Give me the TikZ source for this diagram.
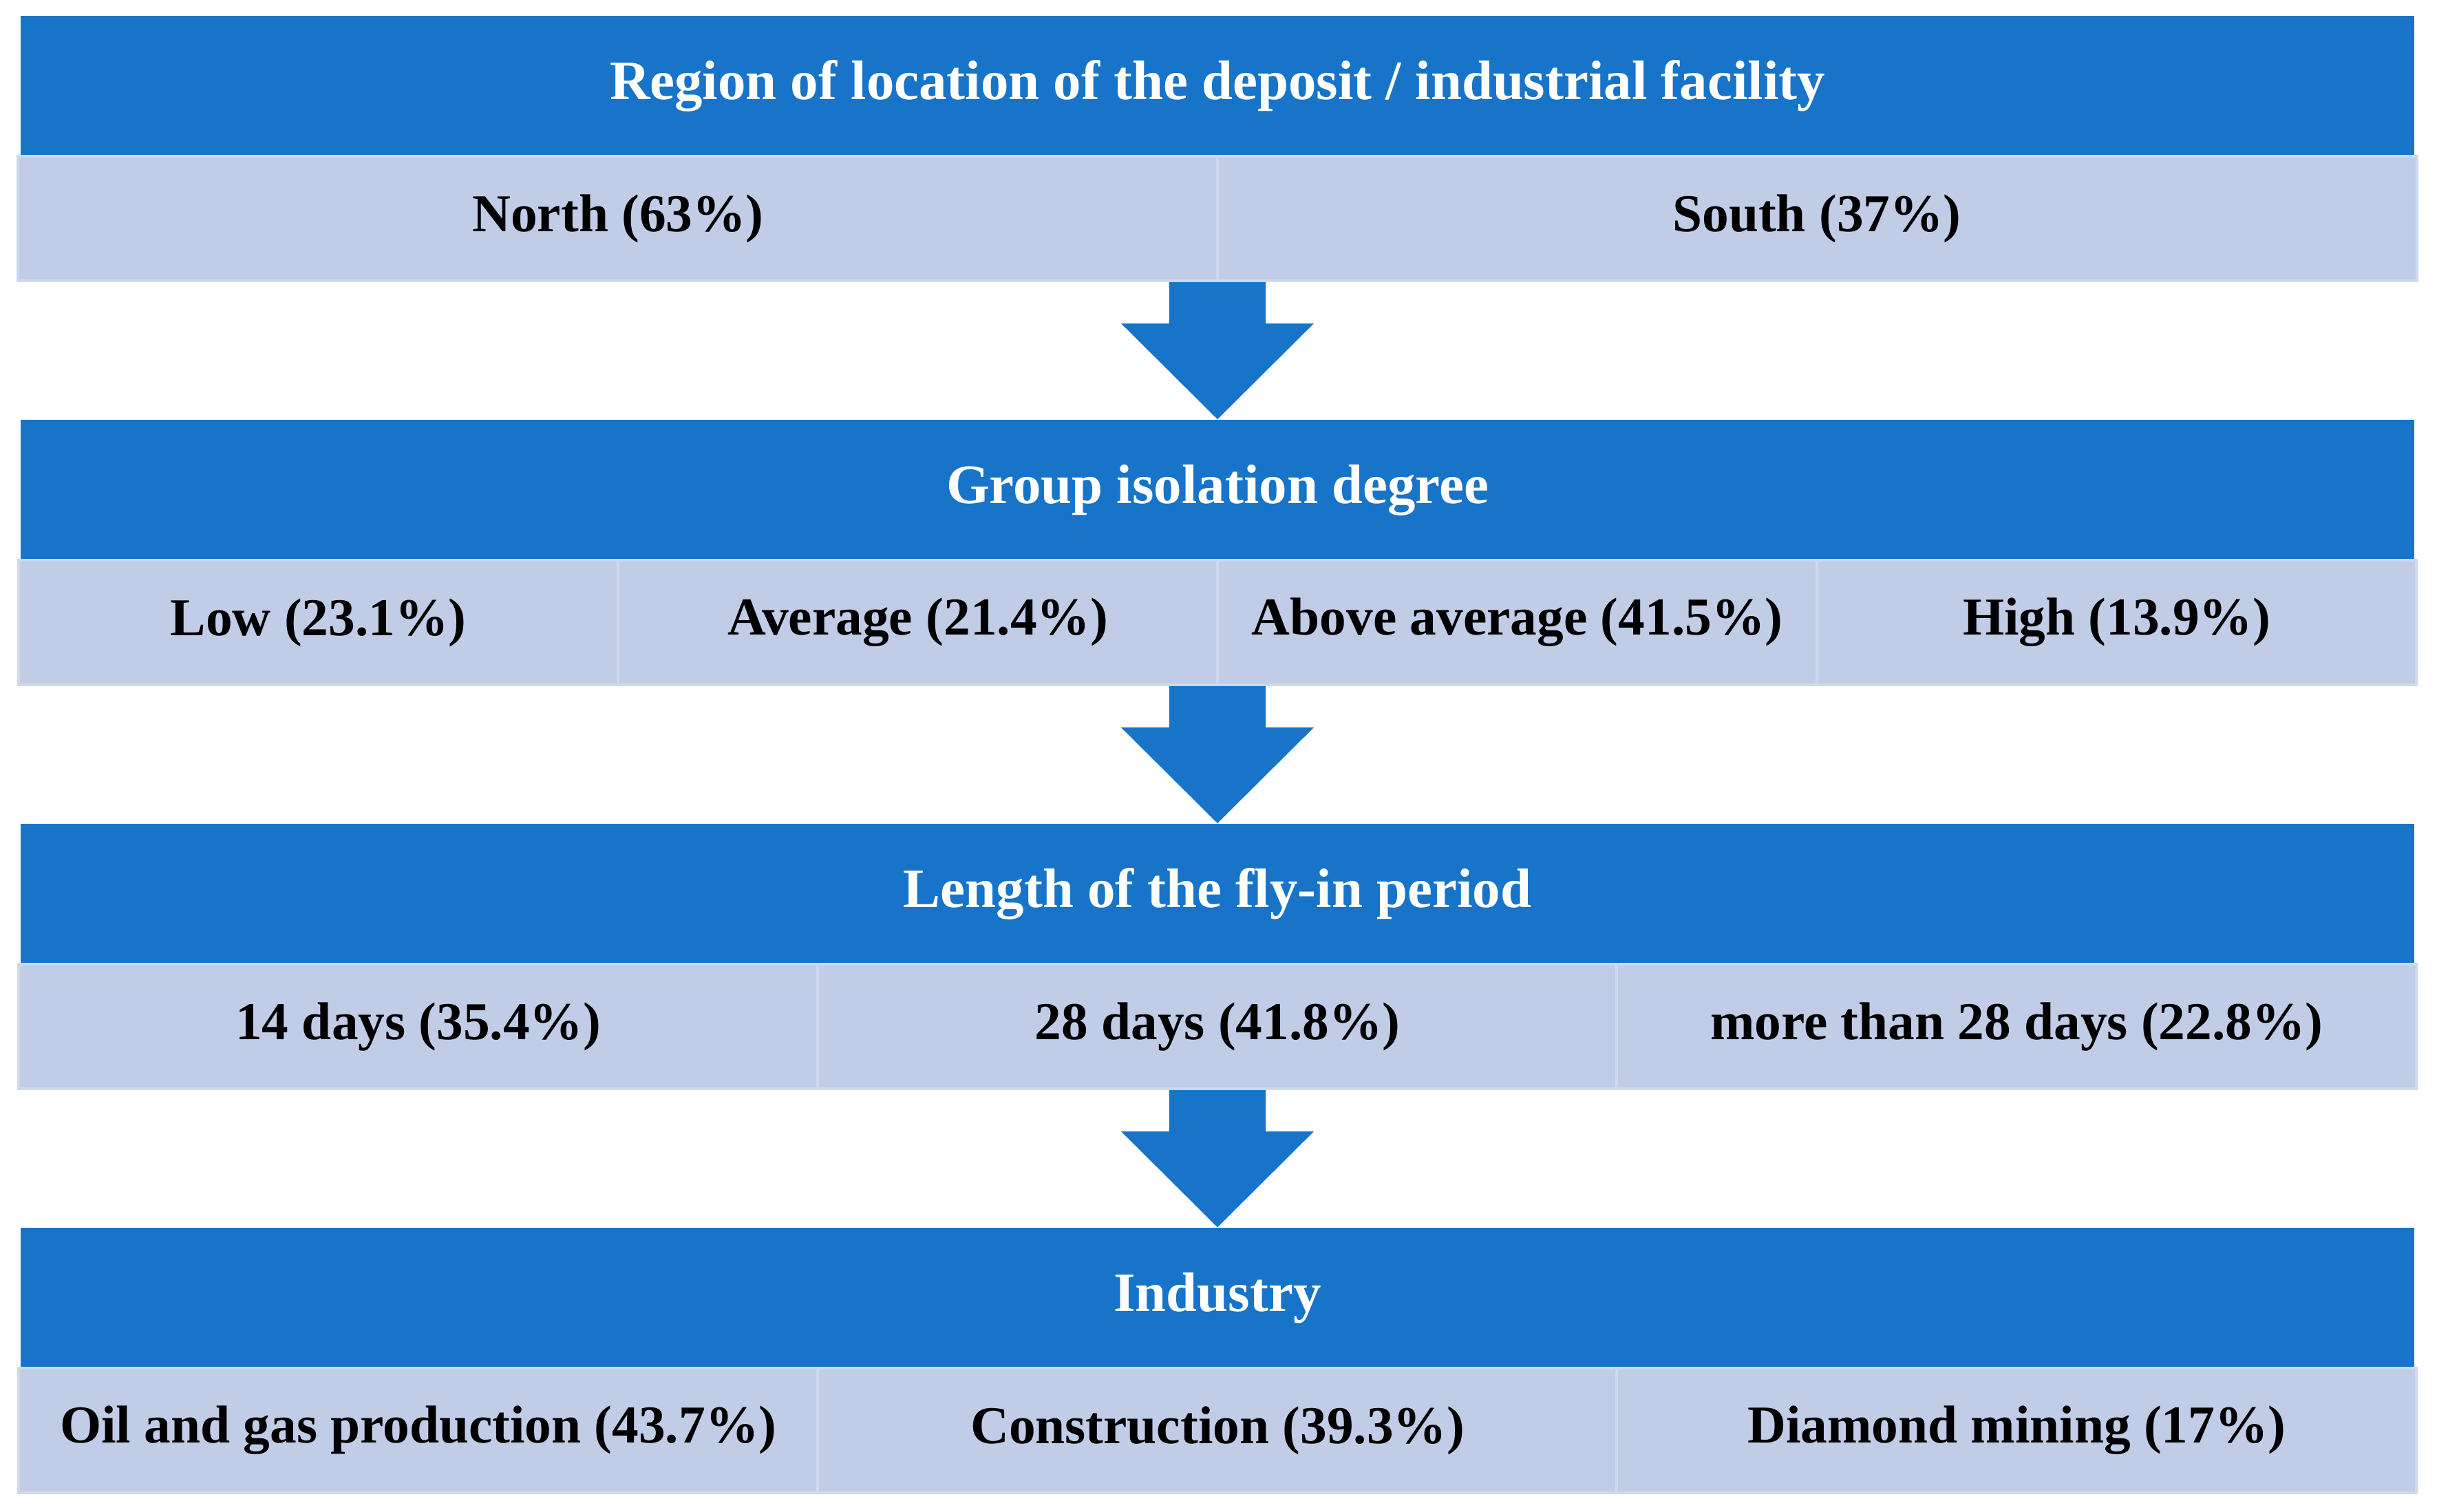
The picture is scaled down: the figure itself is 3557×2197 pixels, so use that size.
\documentclass[tikz,border=0pt]{standalone}
\usepackage{fontspec}
\setmainfont{Liberation Serif}
\usetikzlibrary{calc}
\definecolor{headblue}{RGB}{24,116,200}
\definecolor{cellblue}{RGB}{193,204,231}
\definecolor{lineblue}{RGB}{208,216,237}
\begin{document}
\begin{tikzpicture}[x=0.01cm,y=-0.01cm,
  head/.style={font=\fontsize{23}{27}\selectfont\bfseries,fill=headblue,text=white,inner sep=0pt,minimum width=34.75cm,minimum height=2.04cm},
  cell/.style={font=\fontsize{22}{26}\selectfont\bfseries,fill=cellblue,draw=lineblue,line width=0.04cm,inner sep=0pt,minimum height=1.81cm},
  half/.style={cell,minimum width=17.42cm},
  quarter/.style={cell,minimum width=8.71cm},
  third/.style={cell,minimum width=11.613cm},
  down/.style={fill=headblue}]
\useasboundingbox (0,0) rectangle (3557,2197);
% region
\node[head] (h1) at (1769,125) {Region of location of the deposit / industrial facility};
\node[half] (n1) at (898,317.5) {North (63\%)};
\node[half] (n2) at (2640,317.5) {South (37\%)};
% isolation
\node[head] (h2) at (1769,712) {Group isolation degree};
\node[quarter] (l1) at (462.5,904.5) {Low (23.1\%)};
\node[quarter] (l2) at (1333.5,904.5) {Average (21.4\%)};
\node[quarter] (l3) at (2204.5,904.5) {Above average (41.5\%)};
\node[quarter] (l4) at (3075.5,904.5) {High (13.9\%)};
% fly-in period
\node[head] (h3) at (1769,1299) {Length of the fly-in period};
\node[third] (d1) at (607.7,1491.5) {14 days (35.4\%)};
\node[third] (d2) at (1769,1491.5) {28 days (41.8\%)};
\node[third] (d3) at (2930.3,1491.5) {more than 28 days (22.8\%)};
% industry
\node[head] (h4) at (1769,1886) {Industry};
\node[third] (i1) at (607.7,2078.5) {Oil and gas production (43.7\%)};
\node[third] (i2) at (1769,2078.5) {Construction (39.3\%)};
\node[third] (i3) at (2930.3,2078.5) {Diamond mining (17\%)};
% arrows between blocks
\foreach \a/\b in {n1/h2, l1/h3, d1/h4}{
  \coordinate (top) at (\b.north |- \a.south);
  \fill[down] ($(top)+(-70,0)$) -- ($(top)+(70,0)$) -- ($(top)+(70,60)$)
    -- ($(top)+(140,60)$) -- (\b.north) -- ($(top)+(-140,60)$)
    -- ($(top)+(-70,60)$) -- cycle;
}
\end{tikzpicture}
\end{document}
